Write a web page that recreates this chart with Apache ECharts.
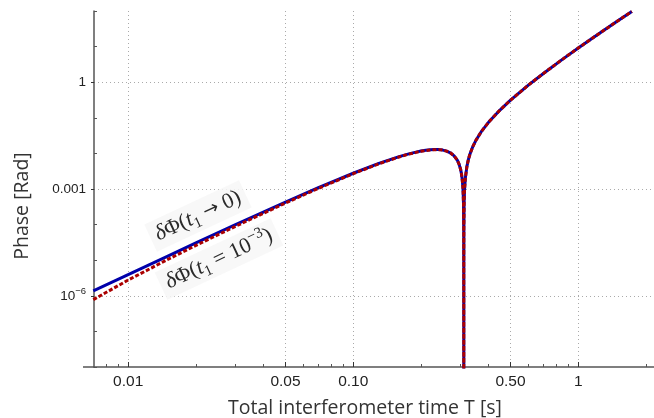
<!DOCTYPE html>
<html>
<head>
<meta charset="utf-8">
<script src="https://cdn.jsdelivr.net/npm/echarts@6/dist/echarts.min.js"></script>
<style>
  html, body { margin: 0; padding: 0; background: #fff; }
  #main { width: 654px; height: 418px; }
</style>
</head>
<body>
<div id="main"></div>
<script>
// total interferometer time T [s]
var tValues = [0.007, 0.01, 0.015, 0.02, 0.03, 0.05, 0.07, 0.1, 0.13, 0.16, 0.175, 0.19, 0.2, 0.21,
  0.22, 0.23, 0.24, 0.25, 0.26, 0.27, 0.275, 0.28, 0.285, 0.29, 0.295, 0.30, 0.3025, 0.305, 0.307,
  0.308, 0.309, 0.3098, 0.30998, 0.31, 0.31002, 0.3102, 0.311, 0.312, 0.3125, 0.315, 0.32, 0.325,
  0.33, 0.34, 0.35, 0.37, 0.4, 0.45, 0.5, 0.6, 0.7, 0.85, 1.0, 1.15, 1.3, 1.5, 1.73];

// dPhi(t1 -> 0)
var phaseT1Zero = [1.37e-6, 3.96e-6, 1.31e-5, 3.06e-5, 9.97e-5, 4.29e-4, 1.09e-3, 2.77e-3, 5.22e-3,
  8.11e-3, 9.55e-3, 1.086e-2, 1.161e-2, 1.222e-2, 1.264e-2, 1.284e-2, 1.277e-2, 1.237e-2, 1.160e-2,
  1.039e-2, 9.60e-3, 8.69e-3, 7.64e-3, 6.44e-3, 5.08e-3, 3.56e-3, 2.74e-3, 1.87e-3, 1.145e-3,
  7.7e-4, 3.9e-4, 7.9e-5, 7.9e-6, 1e-10, 7.9e-6, 7.9e-5, 3.97e-4, 8.0e-4, 1.007e-3, 2.06e-3,
  4.32e-3, 6.79e-3, 9.48e-3, 1.556e-2, 2.26e-2, 4.01e-2, 7.6e-2, 0.168, 0.313, 0.826, 1.76, 4.38,
  9.1, 16.9, 28.7, 53, 97];

// dPhi(t1 = 10^-3)
var phaseT1Milli = [7.8e-7, 2.77e-6, 1.05e-5, 2.60e-5, 8.98e-5, 4.03e-4, 1.04e-3, 2.69e-3, 5.10e-3,
  7.95e-3, 9.38e-3, 1.069e-2, 1.144e-2, 1.204e-2, 1.247e-2, 1.268e-2, 1.277e-2, 1.237e-2, 1.160e-2,
  1.039e-2, 9.60e-3, 8.69e-3, 7.64e-3, 6.44e-3, 5.08e-3, 3.56e-3, 2.74e-3, 1.87e-3, 1.145e-3,
  7.7e-4, 3.9e-4, 7.9e-5, 7.9e-6, 1e-10, 7.9e-6, 7.9e-5, 3.97e-4, 8.0e-4, 1.007e-3, 2.06e-3,
  4.32e-3, 6.79e-3, 9.48e-3, 1.556e-2, 2.26e-2, 4.01e-2, 7.6e-2, 0.168, 0.313, 0.826, 1.76, 4.38,
  9.1, 16.9, 28.7, 53, 97];

var xMajorTicks = [0.01, 0.05, 0.1, 0.5, 1];
var xMajorLabels = ['0.01', '0.05', '0.10', '0.50', '1'];
var xMinorTicks = [0.008, 0.009, 0.02, 0.03, 0.04, 0.06, 0.07, 0.08, 0.09, 0.2, 0.3, 0.4, 0.6, 0.7, 0.8, 0.9, 2];
var yMajorTicks = [1e-6, 1e-3, 1];
var yMinorTicks = [1e-8, 1e-7, 1e-5, 1e-4, 1e-2, 1e-1, 10, 100];

function pairs(xs, ys) {
  var out = [];
  for (var i = 0; i < xs.length; i++) out.push([xs[i], ys[i]]);
  return out;
}

var X_MIN = 0.00705, X_MAX = 2.17, Y_MIN = 1e-8, Y_MAX = 100;
var axisCol = '#555';

var chart = echarts.init(document.getElementById('main'));

// rich styles for the math annotations
var mathRich = {
  g: { fontFamily: 'Liberation Serif', fontStyle: 'italic', fontSize: 22, fill: '#2a2a2a', lineHeight: 28 },
  m: { fontFamily: 'Liberation Serif', fontSize: 22, fill: '#2a2a2a', lineHeight: 28 },
  a: { fontFamily: 'DejaVu Sans', fontSize: 19, fill: '#2a2a2a', lineHeight: 28 },
  i: { fontFamily: 'Liberation Serif', fontStyle: 'italic', fontSize: 22, fill: '#2a2a2a', lineHeight: 28 },
  sub: { fontFamily: 'Liberation Serif', fontSize: 15, fill: '#2a2a2a', verticalAlign: 'bottom', lineHeight: 18 },
  sup: { fontFamily: 'Liberation Serif', fontSize: 15, fill: '#2a2a2a', verticalAlign: 'top', lineHeight: 18 }
};

var option = {
  animation: false,
  backgroundColor: '#fff',
  grid: { left: 94, right: 0, top: 11, bottom: 51, containLabel: false },
  xAxis: [{
    type: 'log', min: X_MIN, max: X_MAX,
    axisLine: { show: true, lineStyle: { color: axisCol, width: 1.5 } },
    axisTick: { show: true, inside: true, length: 5, customValues: xMajorTicks, lineStyle: { color: '#333', width: 1 } },
    axisLabel: {
      customValues: xMajorTicks, margin: 7,
      fontFamily: 'Liberation Sans', fontSize: 15.5, color: '#222',
      formatter: function (v) {
        for (var i = 0; i < xMajorTicks.length; i++) {
          if (Math.abs(v / xMajorTicks[i] - 1) < 1e-6) return xMajorLabels[i];
        }
        return '';
      }
    },
    splitLine: { show: true, lineStyle: { color: '#aaa', type: [1, 3], width: 1 } }
  }, {
    type: 'log', min: X_MIN, max: X_MAX, position: 'bottom',
    axisLine: { show: false },
    axisTick: { show: true, inside: true, length: 3, customValues: xMinorTicks, lineStyle: { color: '#555', width: 1 } },
    axisLabel: { show: false },
    splitLine: { show: false }
  }],
  yAxis: [{
    type: 'log', min: Y_MIN, max: Y_MAX,
    axisLine: { show: true, lineStyle: { color: axisCol, width: 1.5 } },
    axisTick: { show: true, inside: false, length: 3, customValues: yMajorTicks, lineStyle: { color: '#333', width: 1 } },
    axisLabel: {
      customValues: yMajorTicks, margin: 8,
      fontFamily: 'Liberation Sans', fontSize: 13.5, color: '#222',
      formatter: function (v) {
        if (v > 0.5) return '1';
        if (v > 1e-4) return '0.001';
        return '{b|10}{s|\u22126}';
      },
      rich: {
        b: { fontFamily: 'Liberation Sans', fontSize: 13.5, color: '#222', lineHeight: 18 },
        s: { fontFamily: 'Liberation Sans', fontSize: 9.5, color: '#222', verticalAlign: 'top', lineHeight: 10 }
      }
    },
    splitLine: { show: true, lineStyle: { color: '#aaa', type: [1, 3], width: 1 } }
  }, {
    type: 'log', min: Y_MIN, max: Y_MAX, position: 'left',
    axisLine: { show: false },
    axisTick: { show: true, inside: true, length: 3, customValues: yMinorTicks, lineStyle: { color: '#555', width: 1 } },
    axisLabel: { show: false },
    splitLine: { show: false }
  }],
  series: [{
    name: 't1 -> 0', type: 'line', xAxisIndex: 0, yAxisIndex: 0,
    data: pairs(tValues, phaseT1Zero),
    showSymbol: false, clip: true, z: 3,
    lineStyle: { color: '#0000aa', width: 3 }
  }, {
    name: 't1 = 1e-3', type: 'line', xAxisIndex: 0, yAxisIndex: 0,
    data: pairs(tValues, phaseT1Milli),
    showSymbol: false, clip: true, z: 4,
    lineStyle: { color: '#aa0000', width: 3, type: [4, 2] }
  }],
  graphic: [
    { type: 'line', shape: { x1: 83, y1: 367, x2: 94, y2: 367 }, style: { stroke: axisCol, lineWidth: 1.5 }, z: 10 },
    {
      type: 'text', x: 22, y: 206, rotation: Math.PI / 2,
      style: { text: 'Phase [Rad]', fontFamily: 'Open Sans', fontSize: 19.5, fill: '#333', align: 'center', verticalAlign: 'middle' }
    },
    {
      type: 'text', x: 365, y: 408,
      style: { text: 'Total interferometer time T [s]', fontFamily: 'Open Sans', fontSize: 19.5, fill: '#333', align: 'center', verticalAlign: 'middle' }
    },
    {
      type: 'text', x: 198, y: 216, rotation: 25 * Math.PI / 180, z: 20,
      style: {
        text: '{g|\u03b4}{m|\u03a6(}{i|t}{sub|1}{m| }{a|\u2192}{m| 0)}',
        align: 'center', verticalAlign: 'middle',
        backgroundColor: 'rgba(247,247,247,0.85)', padding: [1, 6, 1, 6],
        rich: mathRich
      }
    },
    {
      type: 'text', x: 219, y: 259, rotation: 25 * Math.PI / 180, z: 20,
      style: {
        text: '{g|\u03b4}{m|\u03a6(}{i|t}{sub|1}{m| = 10}{sup|\u22123}{m|)}',
        align: 'center', verticalAlign: 'middle',
        backgroundColor: 'rgba(247,247,247,0.85)', padding: [1, 6, 1, 6],
        rich: mathRich
      }
    }
  ]
};

chart.setOption(option);
</script>
</body>
</html>
